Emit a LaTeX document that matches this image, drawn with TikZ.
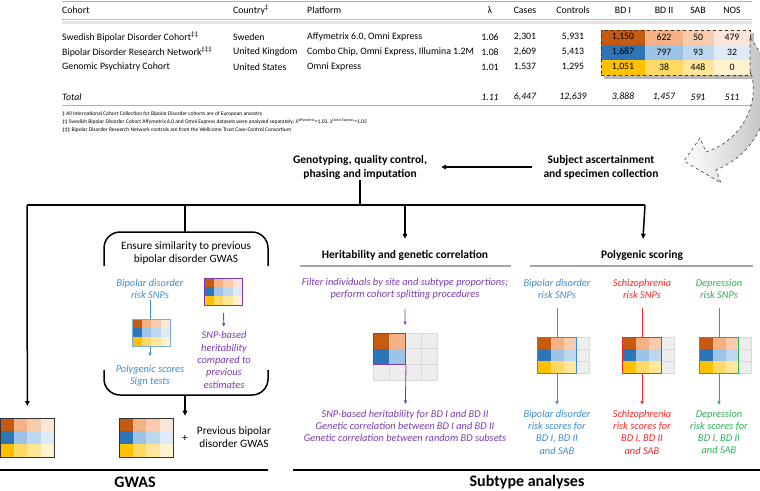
\documentclass[tikz,border=0pt]{standalone}
\usepackage{fontspec}
\setmainfont{Carlito}
\usetikzlibrary{arrows.meta}
\definecolor{or1}{HTML}{C55A11}
\definecolor{or2}{HTML}{F4B183}
\definecolor{or3}{HTML}{F8CBAD}
\definecolor{or4}{HTML}{FBE5D6}
\definecolor{bl1}{HTML}{2E75B6}
\definecolor{bl2}{HTML}{9DC3E6}
\definecolor{bl3}{HTML}{BDD7EE}
\definecolor{bl4}{HTML}{DEEBF7}
\definecolor{ye1}{HTML}{FFC000}
\definecolor{ye2}{HTML}{FFD966}
\definecolor{ye3}{HTML}{FFE699}
\definecolor{ye4}{HTML}{FFF2CC}
\definecolor{bdblue}{HTML}{3A8DD0}
\definecolor{bdred}{HTML}{EE2A2A}
\definecolor{bdgreen}{HTML}{2DAE55}
\definecolor{bdpurple}{HTML}{7A3BAE}

% x, y, cell width, cell height, columns, rows
\newcommand{\heatcells}[6]{%
  \foreach \p [count=\r] in {or,bl,ye}{
    \ifnum\r>#6\relax\else
      \foreach \c in {1,...,#5}
        \fill[fill=\p\c] ({#1+(\c-1)*#3},{#2+(\r-1)*#4}) rectangle +(#3,#4);
    \fi}}
% x, y, cell width, cell height
\newcommand{\graygrid}[4]{%
  \fill[gray!13] (#1,#2) rectangle +({4*#3},{3*#4});
  \foreach \c in {0,...,4} \draw[gray!30] ({#1+\c*#3},#2) -- +(0,{3*#4});
  \foreach \r in {0,...,3} \draw[gray!30] (#1,{#2+\r*#4}) -- +({4*#3},0);}

\begin{document}
\begin{tikzpicture}[x=1pt, y=-1pt,
    >={Triangle[length=5pt,width=4.5pt]},
    tab/.style={anchor=west, inner sep=0, font=\fontsize{9.8}{12}\selectfont},
    tabc/.style={inner sep=0, font=\fontsize{9.8}{12}\selectfont},
    foot/.style={anchor=west, inner sep=0, font=\fontsize{5.5}{6}\selectfont},
    head/.style={align=center, inner sep=1pt, font=\bfseries\fontsize{11.5}{14}\selectfont},
    plain/.style={align=center, inner sep=1pt, font=\fontsize{11.3}{13.5}\selectfont},
    note/.style={align=center, inner sep=1pt, font=\itshape\fontsize{10.4}{12.3}\selectfont},
    big/.style={inner sep=0, font=\bfseries\fontsize{16}{18}\selectfont},
    flow/.style={line width=1.5pt},
    rule/.style={gray!70, line width=1.2pt},
    colarrow/.style={->, line width=0.8pt, >={Triangle[length=3.5pt,width=3pt]}},
    heatbox/.style={draw=black!80, line width=0.8pt, inner sep=0, anchor=north west}]
\useasboundingbox (0,0) rectangle (760,490);

% table
\draw[gray!60, line width=0.8pt] (62,1) -- (752,1);
\draw[gray!20, line width=3pt] (62,22) -- (752,22);
\draw[gray!55, line width=1pt] (62,19.5) -- (752,19.5);
\draw[gray!60, line width=0.8pt] (62,105) -- (752,105);
\node[tab] (hCohort) at (62,10) {Cohort};
\node[tab] (hCountry) at (233,10) {Country\textsuperscript{‡}};
\node[tab] (hPlatform) at (307,10) {Platform};
\foreach \v/\x [count=\i] in {λ/490,Cases/525,Controls/573,BD I/623,BD II/664,SAB/698,NOS/732}
  \node[tabc] (h\i) at (\x,10) {\v};

\node[tab] (c1) at (62,37) {Swedish Bipolar Disorder Cohort\textsuperscript{‡‡}};
\node[tab] (c2) at (62,52) {Bipolar Disorder Research Network\textsuperscript{‡‡‡}};
\node[tab] (c3) at (62,67) {Genomic Psychiatry Cohort};
\node[tab] (k1) at (233,37) {Sweden};
\node[tab] (k2) at (233,52) {United Kingdom};
\node[tab] (k3) at (233,67) {United States};
\node[tab] (p1) at (307,37) {Affymetrix 6.0, Omni Express};
\node[tab] (p2) at (307,52) {Combo Chip, Omni Express, Illumina 1.2M};
\node[tab] (p3) at (307,67) {Omni Express};

% subtype counts
\fill[gray!55] (604,33) rectangle (754,79);
\foreach \p/\y in {or/30,bl/45,ye/60}{
  \fill[fill=\p1] (601,\y) rectangle (645,\y+15);
  \fill[fill=\p2] (645,\y) rectangle (683,\y+15);
  \fill[fill=\p3] (683,\y) rectangle (714,\y+15);
  \fill[fill=\p4] (714,\y) rectangle (750,\y+15);
}
\node[draw=black!80, dashed, line width=0.8pt, inner sep=0, anchor=north west,
  minimum width=149pt, minimum height=45pt] (bdbox) at (601,30) {};

\foreach \v/\x [count=\i] in {1.06/490,{2,301}/525,{5,931}/573,{1,150}/623,622/664,50/698,479/732}
  \node[tabc] (ra\i) at (\x,37) {\v};
\foreach \v/\x [count=\i] in {1.08/490,{2,609}/525,{5,413}/573,{1,687}/623,797/664,93/698,32/732}
  \node[tabc] (rb\i) at (\x,52) {\v};
\foreach \v/\x [count=\i] in {1.01/490,{1,537}/525,{1,295}/573,{1,051}/623,38/664,448/698,0/732}
  \node[tabc] (rc\i) at (\x,67) {\v};
\node[tab, font=\itshape\fontsize{9.8}{12}\selectfont] (tot) at (62,97) {Total};
\foreach \v/\x [count=\i] in {1.11/490,{6,447}/525,{12,639}/573,{3,888}/623,{1,457}/664,591/698,511/732}
  \node[tabc, font=\itshape\fontsize{9.8}{12}\selectfont] (rt\i) at (\x,97) {\v};

\node[foot] (fn1) at (62,114) {‡ All International Cohort Collection for Bipolar Disorder cohorts are of European ancestry};
\node[foot] (fn2) at (62,122) {‡‡ Swedish Bipolar Disorder Cohort Affymetrix 6.0 and Omni Express datasets were analyzed separately; λ\textsuperscript{Affymetrix}=1.03, λ\textsuperscript{Omni Express}=1.05};
\node[foot] (fn3) at (62,130) {‡‡‡ Bipolar Disorder Research Network controls are from the Wellcome Trust Case-Control Consortium};

% big curved arrow
\draw[dashed, black!75, line width=0.6pt, left color=white, right color=gray!55]
  (750,38) .. controls (780,72) and (776,145) .. (716,170) -- (721,183) -- (684,161)
  -- (700,138) -- (706,152) .. controls (748,138) and (760,95) .. (750,70) -- cycle;

% flow
\node[head] (subject) at (601,167) {Subject ascertainment\\and specimen collection};
\node[head] (geno) at (360,167) {Genotyping, quality control,\\phasing and imputation};
\draw[flow, ->, shorten <=10pt, shorten >=13pt] (subject) -- (geno);

\coordinate (barL) at (27,205);
\coordinate (barR) at (645,205);
\coordinate (barG) at (360,205);
\coordinate (barE) at (185,205);
\coordinate (barH) at (405,205);
\coordinate (boxtop) at (185,232);
\coordinate (boxbot) at (185,395);
\draw[flow] (geno) -- (barG);
\draw[flow] (barL) -- (barR);

% GWAS
\heatcells{0}{418}{13.5}{13}{4}{3}
\node[heatbox, minimum width=54pt, minimum height=39pt] (gwasA) at (0,418) {};
\heatcells{119}{418}{13.5}{13}{4}{3}
\node[heatbox, minimum width=54pt, minimum height=39pt] (gwasB) at (119,418) {};
\node[plain] (plus) at (185,438) {+};
\node[plain] (prev) at (234,437) {Previous bipolar\\disorder GWAS};
\draw[flow, ->, shorten >=12pt] (barL) -- (gwasA);
\draw[flow] (barE) -- (boxtop);
\draw[flow, ->, shorten >=18pt] (boxbot) -- (plus);

\draw[flow, rounded corners=16pt] (104,266) -- (104,232) -- (268,232) -- (268,266);
\draw[flow, rounded corners=16pt] (104,370) -- (104,395) -- (268,395) -- (268,370);
\node[plain] (ensure) at (186,253) {Ensure similarity to previous\\bipolar disorder GWAS};

\node[note, text=bdblue] (bdsnpA) at (150,289) {Bipolar disorder\\risk SNPs};
\node[note, text=bdblue] (pgs) at (150,376) {Polygenic scores\\Sign tests};
\draw[colarrow, draw=bdblue, shorten >=8pt] (bdsnpA) -- (pgs);
\heatcells{132}{319}{9.5}{9}{4}{3}
\node[draw=bl2!70!bl1, line width=0.8pt, inner sep=0, anchor=north west,
  minimum width=38pt, minimum height=27pt] (heatA) at (132,319) {};

\heatcells{204}{278}{9.5}{9}{4}{3}
\node[draw=bdpurple, line width=0.8pt, inner sep=0, anchor=north west,
  minimum width=38pt, minimum height=27pt] (heatB) at (204,278) {};
\node[note, text=bdpurple] (snph) at (224,360) {SNP-based\\heritability\\compared to\\previous\\estimates};
\draw[colarrow, draw=bdpurple, shorten <=7pt, shorten >=4pt] (heatB) -- (snph);

% heritability
\node[head] (herit) at (405,255) {Heritability and genetic correlation};
\draw[flow, ->, shorten >=10pt] (barH) -- (herit);
\draw[rule] (300,266) -- (511,266);
\node[note, text=bdpurple] (filter) at (405,289) {Filter individuals by site and subtype proportions;\\perform cohort splitting procedures};
\graygrid{373}{333}{16}{15.67}
\heatcells{373}{333}{16}{15.67}{2}{2}
\node[inner sep=0, anchor=north west, minimum width=64pt, minimum height=47pt] (hgrid) at (373,333) {};
\node[draw=bdpurple, line width=1pt, inner sep=0, anchor=north west,
  minimum width=32pt, minimum height=31.3pt] (hsub) at (373,333) {};
\node[note, text=bdpurple] (hres) at (405,426) {SNP-based heritability for BD I and BD II\\Genetic correlation between BD I and BD II\\Genetic correlation between random BD subsets};
\draw[colarrow, draw=bdpurple, shorten <=8pt, shorten >=8pt] (filter) -- (hgrid);
\draw[colarrow, draw=bdpurple, shorten >=5pt] (hsub.south east) -- (hres);

% polygenic scoring
\node[head] (polyg) at (642,255) {Polygenic scoring};
\draw[flow, ->, shorten >=10pt] (barR) -- (polyg);
\draw[rule] (530,266) -- (753,266);
\foreach \x/\col/\dis [count=\i] in {557/bdblue/Bipolar disorder,642/bdred/Schizophrenia,719/bdgreen/Depression}{
  \node[note, text=\col] (snp\i) at (\x,289) {\dis\\risk SNPs};
  \node[note, text=\col] (score\i) at (\x,432) {\dis\\risk scores for\\BD I, BD II\\and SAB};
  \draw[colarrow, draw=\col, shorten <=8pt, shorten >=4pt] (snp\i) -- (score\i);
  \graygrid{\x-19.5}{337}{13}{12}
  \heatcells{\x-19.5}{337}{13}{12}{3}{3}
  \node[draw=\col, line width=1pt, inner sep=0, minimum width=39pt, minimum height=36pt] (pgrid\i) at (\x,355) {};
}

% bottom labels
\draw[line width=1.6pt] (0,470) -- (268,470);
\draw[line width=1.6pt] (293,470) -- (760,470);
\node[big] (gwas) at (135,482) {GWAS};
\node[big] (subtype) at (527,482) {Subtype analyses};
\end{tikzpicture}
\end{document}
